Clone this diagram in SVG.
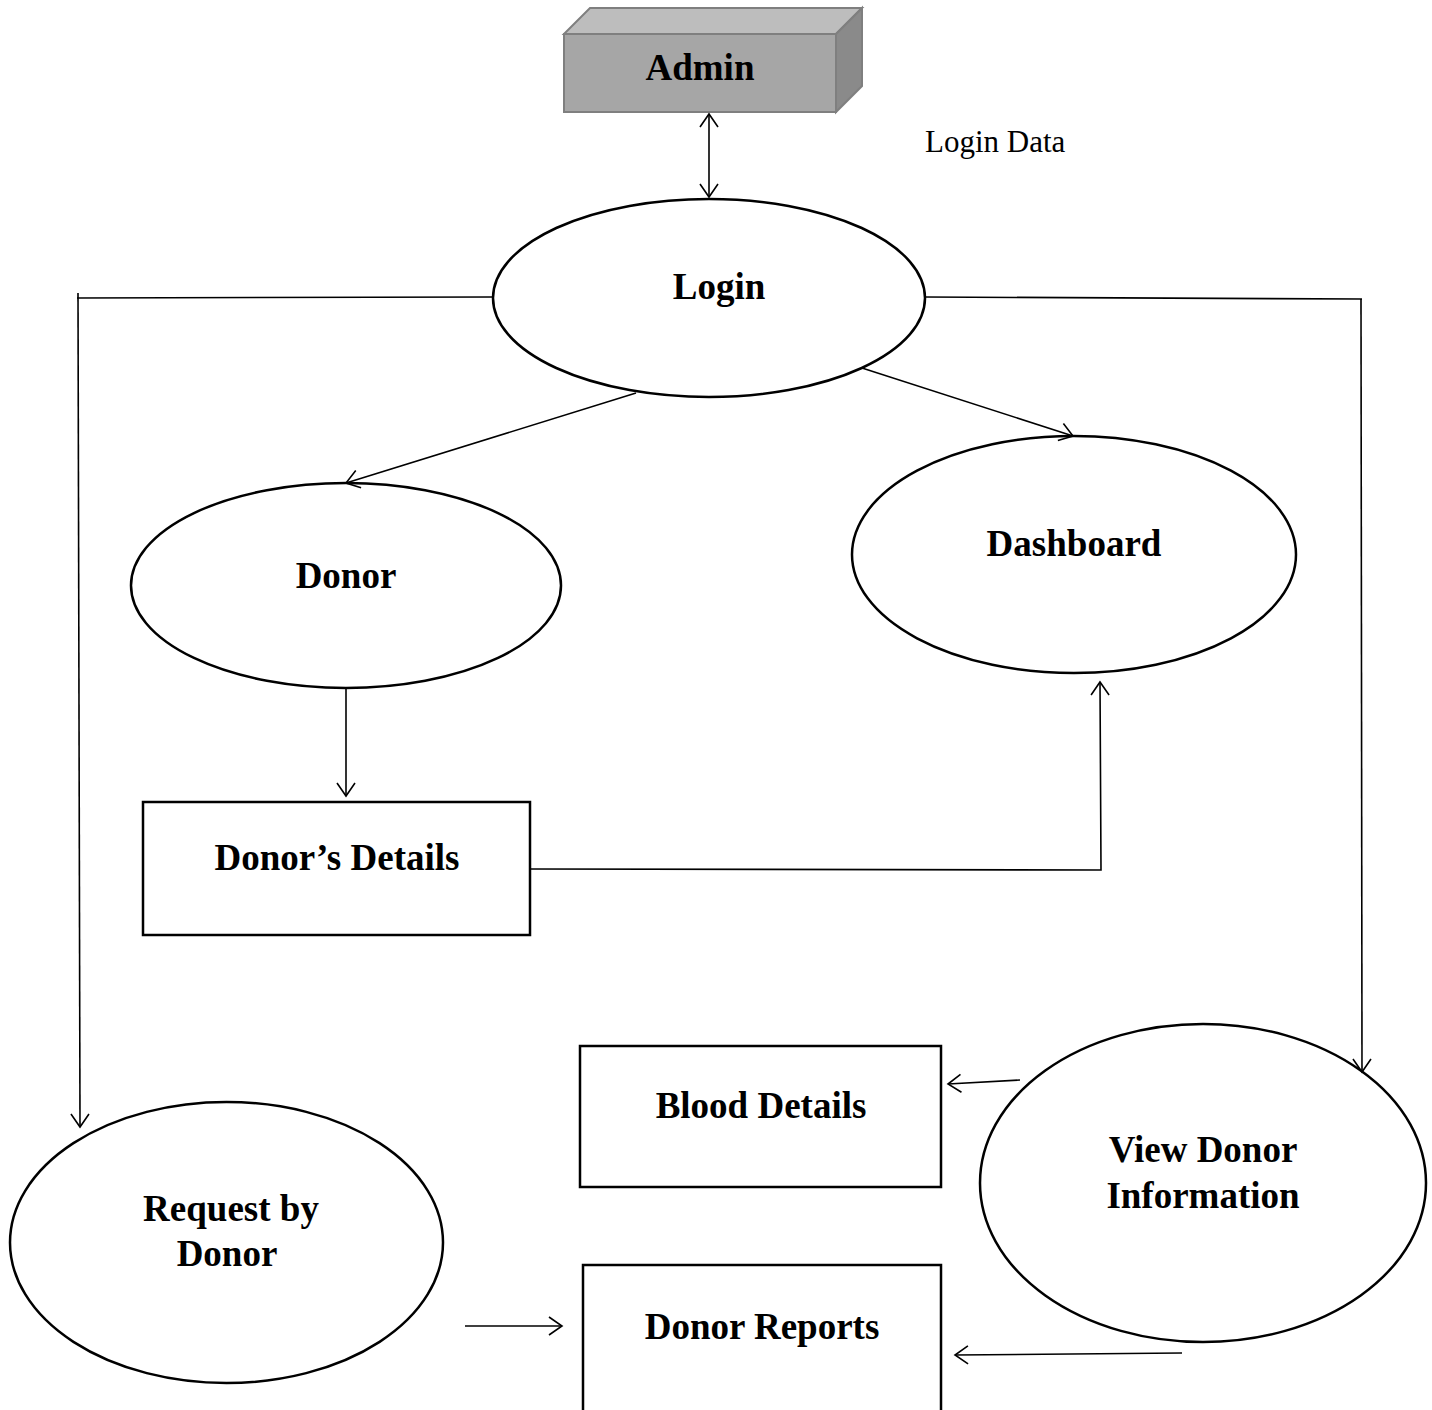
<svg xmlns="http://www.w3.org/2000/svg" width="1432" height="1410" viewBox="0 0 1432 1410">
<style>
.node{fill:#fff;stroke:#000;stroke-width:2.5}
.lbl{font-family:"Liberation Serif","Times New Roman",serif;font-weight:bold;font-size:37px;text-anchor:middle;fill:#000}
.plain{font-family:"Liberation Serif","Times New Roman",serif;font-size:31px;fill:#000}
.con{fill:none;stroke:#000;stroke-width:1.6}
</style>
<defs>
<marker id="arr" markerUnits="userSpaceOnUse" markerWidth="30" markerHeight="30" refX="14" refY="10" orient="auto-start-reverse" viewBox="0 0 30 20">
<path d="M1,1 L14,10 L1,19" fill="none" stroke="#000" stroke-width="1.6"/>
</marker>
</defs>
<rect width="1432" height="1410" fill="#fff"/>
<g id="admin">
<polygon points="564,34 590,8 862,8 836,34" fill="#bdbdbd" stroke="#7f7f7f" stroke-width="2"/>
<polygon points="836,34 862,8 862,86 836,112" fill="#8a8a8a" stroke="#7f7f7f" stroke-width="2"/>
<rect x="564" y="34" width="272" height="78" fill="#a6a6a6" stroke="#7f7f7f" stroke-width="2"/>
<text class="lbl" x="700" y="80">Admin</text>
</g>
<g id="login-data-label">
<text class="plain" x="925" y="152">Login Data</text>
</g>
<g id="login">
<ellipse class="node" cx="709" cy="298" rx="216" ry="99"/>
<text class="lbl" x="719" y="299">Login</text>
</g>
<g id="donor">
<ellipse class="node" cx="346" cy="585.5" rx="215" ry="102.5"/>
<text class="lbl" x="346" y="588">Donor</text>
</g>
<g id="dashboard">
<ellipse class="node" cx="1074" cy="554.5" rx="222" ry="118.5"/>
<text class="lbl" x="1074" y="556">Dashboard</text>
</g>
<g id="donors-details">
<rect class="node" x="143" y="802" width="387" height="133"/>
<text class="lbl" x="337" y="870">Donor’s Details</text>
</g>
<g id="blood-details">
<rect class="node" x="580" y="1046" width="361" height="141"/>
<text class="lbl" x="761" y="1118">Blood Details</text>
</g>
<g id="view-donor-information">
<ellipse class="node" cx="1203" cy="1183" rx="223" ry="159"/>
<text class="lbl" x="1203" y="1162">View Donor</text>
<text class="lbl" x="1203" y="1208">Information</text>
</g>
<g id="request-by-donor">
<ellipse class="node" cx="226.5" cy="1242.5" rx="216.5" ry="140.5"/>
<text class="lbl" x="231" y="1221">Request by</text>
<text class="lbl" x="227" y="1266">Donor</text>
</g>
<g id="donor-reports">
<rect class="node" x="583" y="1265" width="358" height="150"/>
<text class="lbl" x="762" y="1339">Donor Reports</text>
</g>
<g id="connectors">
<line class="con" x1="709" y1="114" x2="709" y2="197" marker-start="url(#arr)" marker-end="url(#arr)"/>
<line class="con" x1="636" y1="393" x2="346" y2="483" marker-end="url(#arr)"/>
<line class="con" x1="862" y1="368" x2="1073" y2="436" marker-end="url(#arr)"/>
<line class="con" x1="346" y1="688" x2="346" y2="796" marker-end="url(#arr)"/>
<polyline class="con" points="530,869 1101,870 1100,682" marker-end="url(#arr)"/>
<line class="con" x1="77" y1="298" x2="492" y2="297"/>
<line class="con" x1="78" y1="293" x2="80" y2="1127" marker-end="url(#arr)"/>
<line class="con" x1="925" y1="297" x2="1362" y2="299"/>
<line class="con" x1="1361" y1="299" x2="1362" y2="1072" marker-end="url(#arr)"/>
<line class="con" x1="1020" y1="1080" x2="948" y2="1084" marker-end="url(#arr)"/>
<line class="con" x1="1182" y1="1353" x2="955" y2="1355" marker-end="url(#arr)"/>
<line class="con" x1="465" y1="1326" x2="562" y2="1326" marker-end="url(#arr)"/>
</g>
</svg>
